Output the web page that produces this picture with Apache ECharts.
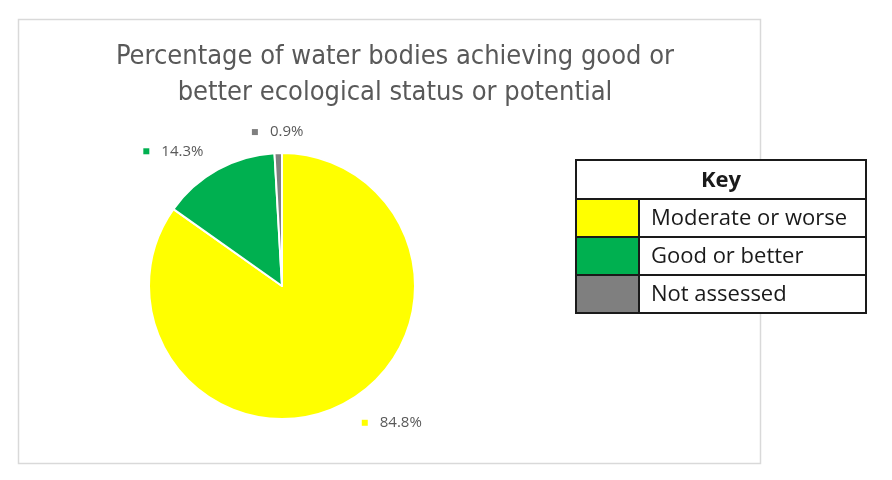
<!DOCTYPE html>
<html lang="en">
<head>
  <meta charset="UTF-8">
  <title>Water bodies ecological status</title>
  <style>
    html, body { margin: 0; height: 100%; width: 100%; background: #fff; }
  </style>
</head>
<body>
  <div id="chart" style="width:892px;height:480px"></div>
  <script src="https://cdn.jsdelivr.net/npm/echarts@6/dist/echarts.min.js"></script>
  <script>
    const titleText = 'Percentage of water bodies achieving good or\nbetter ecological status or potential'
    const categories = ['Moderate or worse', 'Good or better', 'Not assessed']
    const values = [84.8, 14.3, 0.9]
    const colors = ['#ffff00', '#00b050', '#7f7f7f']
    const keyTitle = 'Key'

    const pieCenter = [282, 286]
    const pieRadius = 133

    const data = categories.map((name, i) => ({
      name: name,
      value: values[i],
      itemStyle: { color: colors[i] },
      label: { rich: { m: { backgroundColor: colors[i] } } }
    }))

    // mid angle of each slice, clockwise from 12 o'clock
    const total = values.reduce((a, b) => a + b, 0)
    const midAngles = []
    let acc = 0
    values.forEach(v => {
      midAngles.push((acc + v / 2) / total * Math.PI * 2)
      acc += v
    })

    // excel-ish "outside end" placement
    function placeLabel(params) {
      const a = midAngles[params.dataIndex]
      const dx = Math.sin(a)
      const dy = -Math.cos(a)
      const R = pieRadius + 21
      let x = pieCenter[0] + R * dx
      const y = pieCenter[1] + R * dy
      let align = 'center'
      if (Math.abs(dx) > 0.2) {
        align = dx > 0 ? 'left' : 'right'
        x += dx > 0 ? 9 : -4
      }
      return { x: x, y: y, align: align, verticalAlign: 'middle' }
    }

    // key table on the right, built from the same arrays
    const tbl = { left: 576, top: 160, width: 290, headH: 39, rowH: 38, swatchW: 63 }
    const keyEls = []
    keyEls.push({
      type: 'rect',
      shape: { x: tbl.left, y: tbl.top, width: tbl.width, height: tbl.headH },
      style: { fill: '#fff', stroke: '#1a1a1a', lineWidth: 2 }
    })
    keyEls.push({
      type: 'text',
      x: tbl.left + tbl.width / 2, y: tbl.top + tbl.headH / 2 + 1,
      style: {
        text: keyTitle, fill: '#1a1a1a', font: 'bold 22px "Open Sans"',
        align: 'center', verticalAlign: 'middle'
      }
    })
    categories.forEach((name, i) => {
      const y = tbl.top + tbl.headH + i * tbl.rowH
      keyEls.push({
        type: 'rect',
        shape: { x: tbl.left, y: y, width: tbl.swatchW, height: tbl.rowH },
        style: { fill: colors[i], stroke: '#1a1a1a', lineWidth: 2 }
      })
      keyEls.push({
        type: 'rect',
        shape: { x: tbl.left + tbl.swatchW, y: y, width: tbl.width - tbl.swatchW, height: tbl.rowH },
        style: { fill: '#fff', stroke: '#1a1a1a', lineWidth: 2 }
      })
      keyEls.push({
        type: 'text',
        x: tbl.left + tbl.swatchW + 12, y: y + tbl.rowH / 2 + 1,
        style: {
          text: name, fill: '#1a1a1a', font: '22px "Open Sans"',
          align: 'left', verticalAlign: 'middle'
        }
      })
    })

    const option = {
      animation: false,
      title: {
        text: titleText,
        left: 390,
        top: 34,
        textAlign: 'center',
        textStyle: {
          color: '#595959',
          fontSize: 27,
          fontWeight: 'normal',
          fontFamily: '"Liberation Sans Narrow", "DejaVu Sans Condensed", sans-serif',
          lineHeight: 36
        }
      },
      graphic: [{
        type: 'rect',
        z: -1,
        shape: { x: 18.5, y: 19.5, width: 742, height: 444 },
        style: { fill: '#fff', stroke: '#d9d9d9', lineWidth: 1.5 }
      }].concat(keyEls),
      series: [{
        type: 'pie',
        center: pieCenter,
        radius: pieRadius,
        startAngle: 90,
        clockwise: true,
        itemStyle: { borderColor: '#fff', borderWidth: 2 },
        label: {
          show: true,
          position: 'outside',
          formatter: p => '{m|}{s|}{v|' + p.value.toFixed(1) + '%}',
          rich: {
            m: { width: 6, height: 6 },
            s: { width: 12 },
            v: { color: '#595959', fontSize: 15, fontFamily: '"Open Sans"' }
          }
        },
        labelLine: { show: false },
        labelLayout: placeLabel,
        data: data
      }]
    }
    const myChart = echarts.init(document.getElementById('chart'))
    myChart.setOption(option)
  </script>
</body>
</html>
